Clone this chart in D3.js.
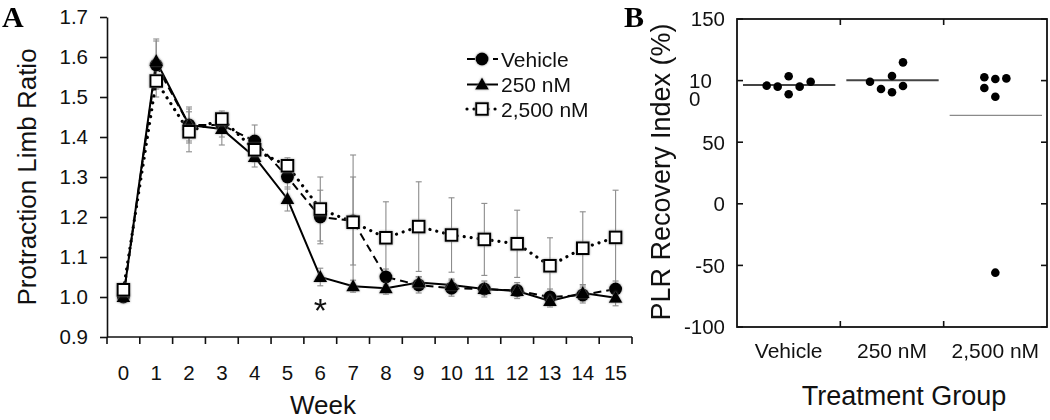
<!DOCTYPE html>
<html><head><meta charset="utf-8">
<script src="https://cdn.jsdelivr.net/npm/d3@7"></script>
<style>body{margin:0;background:#fff}svg{display:block;font-family:"Liberation Sans",Arial,sans-serif}</style>
</head><body><svg id="c" width="1050" height="420"></svg>
<script>
// ---------- Panel A data ----------
const weeks = [0,1,2,3,4,5,6,7,8,9,10,11,12,13,14,15];
const weekLabels = ["0","1","2","3","4","5","6","7","8","9","10","11","12","13","14","15"];
const yTicksA = [0.9,1.0,1.1,1.2,1.3,1.4,1.5,1.6,1.7];
const yTickLabelsA = ["0.9","1.0","1.1","1.2","1.3","1.4","1.5","1.6","1.7"];
const seriesNames = ["Vehicle","250 nM","2,500 nM"];
const vehicleMean = [1.00,1.58,1.43,1.43,1.39,1.30,1.20,1.19,1.05,1.03,1.022,1.02,1.016,1.00,1.005,1.02];
const vehicleErr  = [0.01,0.06,0.04,0.03,0.04,0.03,0.067,0.11,0.02,0.02,0.02,0.02,0.02,0.02,0.02,0.02];
const nM250Mean   = [1.00,1.59,1.43,1.42,1.35,1.245,1.05,1.027,1.022,1.036,1.03,1.02,1.015,0.99,1.01,0.998];
const nM250Err    = [0.01,0.055,0.045,0.04,0.025,0.03,0.022,0.015,0.015,0.015,0.015,0.01,0.01,0.015,0.02,0.02];
const nM2500Mean  = [1.018,1.54,1.413,1.445,1.368,1.328,1.22,1.187,1.148,1.176,1.155,1.144,1.133,1.078,1.122,1.149];
const nM2500Err   = [0.01,0.04,0.05,0.02,0.03,0.02,0.08,0.168,0.09,0.112,0.093,0.09,0.084,0.07,0.091,0.118];
const sigWeeks250 = [6];

// ---------- Panel B data ----------
const groupsB = ["Vehicle","250 nM","2,500 nM"];
const vehiclePLR = [95.9,95.1,103.5,88.9,95.1,99.1];
const vehicleSlot = [-2,-1,0,0,1,2];
const nM250PLR = [99.1,93.2,103.7,90.5,114.8,95.6];
const nM250Slot = [-2,-1,0,0,1,1];
const nM2500PLR = [102.7,94.0,101.3,86.9,101.8,-55.9];
const nM2500Slot = [-1,-1,0,0,1,0];
const groupMeansB = [96.4,100.2,71.8];
const yTicksB = [150,100,50,0,-50,-100];
const yTickLabelsB = ["150","10\n0","50","0","-50","-100"];

const svg = d3.select("#c");
svg.append("rect").attr("width",1050).attr("height",420).attr("fill","#fff");
const defs = svg.append("defs");
const f = defs.append("filter").attr("id","sh").attr("x","-50%").attr("y","-50%").attr("width","200%").attr("height","200%");
f.append("feDropShadow").attr("dx",0).attr("dy",0).attr("stdDeviation",1.3).attr("flood-color","#777").attr("flood-opacity",0.8);

// ================= Panel A =================
const x = d3.scaleBand().domain(weeks).range([107,632]).padding(0);
const y = d3.scaleLinear().domain([0.9,1.7]).range([337,17]);
const cx = w => x(w) + x.bandwidth()/2;

// y axis
const yAx = svg.append("g").attr("transform","translate(107,0)")
  .call(d3.axisLeft(y).tickValues(yTicksA).tickFormat((d,i)=>yTickLabelsA[i]).tickSize(7).tickSizeOuter(0).tickPadding(12));
yAx.selectAll("text").attr("font-size",20.5).attr("font-family","Liberation Sans, Arial, sans-serif").attr("fill","#111");
yAx.selectAll("line,path").attr("stroke","#111").attr("stroke-width",1.6);

// x axis
const xg = svg.append("g");
xg.append("line").attr("x1",x.range()[0]).attr("x2",x.range()[1]).attr("y1",337).attr("y2",337).attr("stroke","#111").attr("stroke-width",1.6);
const bounds = weeks.map(w=>x(w)).concat([x(weeks[weeks.length-1])+x.bandwidth()]);
xg.selectAll("line.t").data(bounds).join("line").attr("class","t")
  .attr("x1",d=>d).attr("x2",d=>d).attr("y1",337).attr("y2",344).attr("stroke","#111").attr("stroke-width",1.6);
xg.selectAll("text").data(weeks).join("text")
  .attr("x",d=>cx(d)).attr("y",380).attr("text-anchor","middle").attr("font-size",20.5).attr("fill","#111")
  .text((d,i)=>weekLabels[i]);

svg.append("text").attr("x",323).attr("y",414).attr("text-anchor","middle").attr("font-size",26).attr("fill","#111").text("Week");
svg.append("text").attr("transform","translate(36,177) rotate(-90)").attr("text-anchor","middle").attr("font-size",26).attr("fill","#111").text("Protraction Limb Ratio");

const series = [
  {name:seriesNames[0], mean:vehicleMean, err:vehicleErr, dash:"8,5", width:2, cap:"butt", sym:"circle"},
  {name:seriesNames[1], mean:nM250Mean, err:nM250Err, dash:null, width:2, cap:"butt", sym:"triangle"},
  {name:seriesNames[2], mean:nM2500Mean, err:nM2500Err, dash:"0.01,7", width:3.2, cap:"round", sym:"square"}
];

// error bars
series.forEach(s=>{
  const g = svg.append("g").attr("stroke","#8c8c8c").attr("stroke-width",1.1);
  weeks.forEach((w,i)=>{
    const xx = cx(w), y1 = y(s.mean[i]+s.err[i]), y2 = y(s.mean[i]-s.err[i]);
    g.append("line").attr("x1",xx).attr("x2",xx).attr("y1",y1).attr("y2",y2);
    g.append("line").attr("x1",xx-3).attr("x2",xx+3).attr("y1",y1).attr("y2",y1);
    g.append("line").attr("x1",xx-3).attr("x2",xx+3).attr("y1",y2).attr("y2",y2);
  });
});

// lines
const line = d3.line().x((d,i)=>cx(weeks[i])).y(d=>y(d));
series.forEach(s=>{
  svg.append("path").attr("d",line(s.mean)).attr("fill","none").attr("stroke","#000")
    .attr("stroke-width",s.width).attr("stroke-linecap",s.cap)
    .attr("stroke-dasharray",s.dash);
});

function marker(g, type, xx, yy){
  if(type==="circle") g.append("circle").attr("cx",xx).attr("cy",yy).attr("r",6.5).attr("fill","#000");
  else if(type==="triangle") g.append("path").attr("transform",`translate(${xx},${yy+1})`).attr("d",d3.symbol(d3.symbolTriangle,82)()).attr("fill","#000");
  else g.append("rect").attr("x",xx-5.8).attr("y",yy-5.8).attr("width",11.6).attr("height",11.6).attr("fill","#fff").attr("stroke","#000").attr("stroke-width",2);
}
series.forEach(s=>{
  const g = svg.append("g").attr("filter","url(#sh)");
  weeks.forEach((w,i)=>marker(g, s.sym, cx(w), y(s.mean[i])));
});

// significance asterisk
sigWeeks250.forEach(w=>{
  svg.append("text").attr("x",cx(w)).attr("y",y(nM250Mean[weeks.indexOf(w)])+45).attr("text-anchor","middle")
    .attr("font-size",34).attr("fill","#111").text("*");
});

// legend
const legY = [59,84.5,109];
series.forEach((s,i)=>{
  const g = svg.append("g");
  g.append("line").attr("x1",467).attr("x2",498).attr("y1",legY[i]).attr("y2",legY[i]).attr("stroke","#000")
   .attr("stroke-width",s.width).attr("stroke-linecap",s.cap).attr("stroke-dasharray",s.dash);
  const mg = g.append("g").attr("filter","url(#sh)");
  marker(mg, s.sym, 482, legY[i]);
  g.append("text").attr("x",501).attr("y",legY[i]).attr("dy","0.36em").attr("font-size",21).attr("fill","#111").text(s.name);
});

// panel letters
svg.append("text").attr("x",2).attr("y",27).attr("font-family","Liberation Serif, Times New Roman, serif").attr("font-weight","bold").attr("font-size",30).attr("fill","#000").text("A");
svg.append("text").attr("x",624).attr("y",27).attr("font-family","Liberation Serif, Times New Roman, serif").attr("font-weight","bold").attr("font-size",30).attr("fill","#000").text("B");

// ================= Panel B =================
const xB = d3.scaleBand().domain(groupsB).range([737,1047]).padding(0);
const yB = d3.scaleLinear().domain([-100,150]).range([327,19]);
const gB = svg.append("g");
gB.append("rect").attr("x",737).attr("y",19).attr("width",310).attr("height",308).attr("fill","none").attr("stroke","#111").attr("stroke-width",1.8);
yTicksB.forEach((t,i)=>{
  gB.append("line").attr("x1",737).attr("x2",743).attr("y1",yB(t)).attr("y2",yB(t)).attr("stroke","#111").attr("stroke-width",1.6);
  gB.append("line").attr("x1",1041).attr("x2",1047).attr("y1",yB(t)).attr("y2",yB(t)).attr("stroke","#111").attr("stroke-width",1.6);
  const parts = yTickLabelsB[i].split("\n");
  const tx = gB.append("text").attr("font-size",20.5).attr("fill","#111")
    .attr("text-anchor", parts.length>1 ? "start" : "end");
  parts.forEach((p,j)=>{
    tx.append("tspan").attr("x", parts.length>1 ? 689 : 725).attr("y",yB(t)).attr("dy",(0.36+j*0.9)+"em").text(p);
  });
});
groupsB.slice(1).forEach(gname=>{
  const bx = xB(gname);
  gB.append("line").attr("x1",bx).attr("x2",bx).attr("y1",19).attr("y2",25).attr("stroke","#111").attr("stroke-width",1.6);
  gB.append("line").attr("x1",bx).attr("x2",bx).attr("y1",321).attr("y2",327).attr("stroke","#111").attr("stroke-width",1.6);
});
gB.selectAll("text.xl").data(groupsB).join("text").attr("class","xl")
  .attr("x",d=>xB(d)+xB.bandwidth()/2).attr("y",358).attr("text-anchor","middle").attr("font-size",21).attr("fill","#111").text(d=>d);

// mean lines
groupsB.forEach((gname,i)=>{
  gB.append("line").attr("x1",xB(gname)+6).attr("x2",xB(gname)+xB.bandwidth()-5)
    .attr("y1",yB(groupMeansB[i])).attr("y2",yB(groupMeansB[i]))
    .attr("stroke", i===2 ? "#8a8a8a" : "#444").attr("stroke-width", i===2 ? 1.4 : 2);
});
// dots
const ptsB = [[vehiclePLR,vehicleSlot],[nM250PLR,nM250Slot],[nM2500PLR,nM2500Slot]];
const slotW = 11;
ptsB.forEach(([vals,slots],gi)=>{
  const c = xB(groupsB[gi]) + xB.bandwidth()/2;
  vals.forEach((v,j)=>{
    gB.append("circle").attr("cx",c+slots[j]*slotW).attr("cy",yB(v)).attr("r",4.3).attr("fill","#000");
  });
});

svg.append("text").attr("transform","translate(670,172) rotate(-90)").attr("text-anchor","middle").attr("font-size",27).attr("fill","#111").text("PLR Recovery Index (%)");
svg.append("text").attr("x",904).attr("y",405).attr("text-anchor","middle").attr("font-size",27).attr("fill","#111").text("Treatment Group");
</script></body></html>
